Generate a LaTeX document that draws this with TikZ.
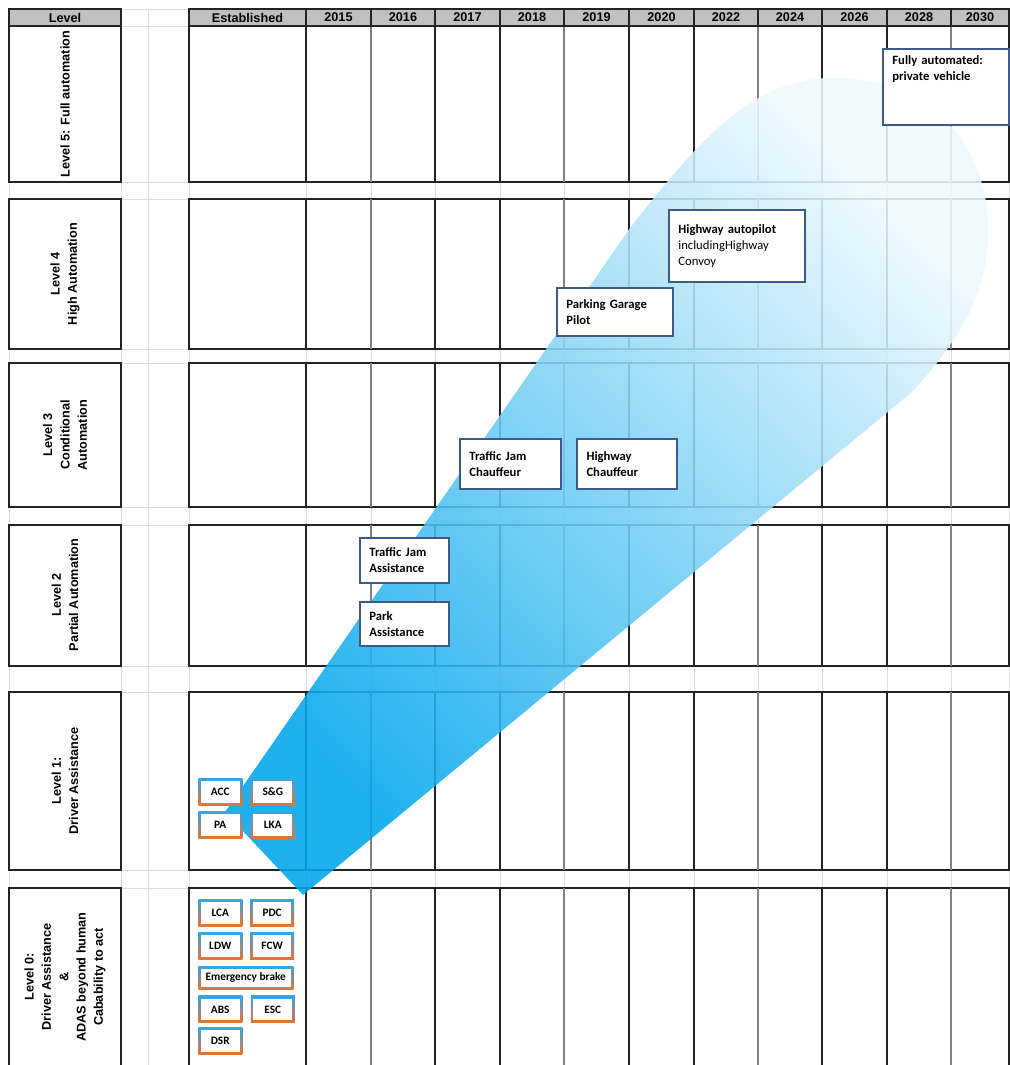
\documentclass[tikz,border=0pt]{standalone}
\usepackage{fontspec}
\usepackage{xcolor}
\usepackage{tikz}
\usetikzlibrary{positioning}
\newfontfamily\tablefont{Liberation Sans}
\newfontfamily\calloutfont{Carlito}
\definecolor{headgray}{RGB}{192, 192, 192}
\definecolor{gridgray}{RGB}{220, 220, 220}
\definecolor{rulegray}{RGB}{35, 35, 35}
\definecolor{rulelight}{RGB}{130, 130, 130}
\definecolor{stageblue}{RGB}{63, 91, 133}
\definecolor{beamdark}{RGB}{0, 166, 236}
\definecolor{beamlight}{RGB}{238, 249, 254}
\definecolor{featblue}{RGB}{52, 166, 226}
\definecolor{featorange}{RGB}{234, 114, 48}

\begin{document}
\begin{tikzpicture}[x=0.75pt, y=-0.75pt,
    gridline/.style={draw=gridgray, line width=0.75pt},
    rule/.style={draw=rulegray, line width=0.8pt},
    softrule/.style={draw=rulelight, line width=0.8pt},
    headcell/.style={draw=rulegray, line width=0.8pt, fill=headgray, minimum height=12.75pt,
                     inner sep=0pt, font=\tablefont\bfseries\fontsize{9.5}{11}\selectfont},
    levellabel/.style={rotate=90, align=center, font=\tablefont\bfseries\fontsize{9.5}{13}\selectfont},
    stage/.style={draw=stageblue, line width=1.6pt, fill=white, anchor=north west, align=left,
                  text width=#1, inner xsep=7pt, inner ysep=4pt,
                  font=\calloutfont\bfseries\fontsize{9.5}{12}\selectfont},
    feature/.style={top color=featblue, bottom color=featorange, minimum width=33pt,
                    minimum height=20.25pt, inner sep=0pt,
                    font=\calloutfont\bfseries\fontsize{8.5}{9}\selectfont,
                    path picture={\fill[white] ([shift={(2pt,-2pt)}]path picture bounding box.north west)
                        rectangle ([shift={(-2pt,2pt)}]path picture bounding box.south east);}},
    beam/.style={top color=beamlight, bottom color=beamdark, shading angle=-45, fill opacity=0.88},
]
    \path[use as bounding box, fill=white] (0,0) rectangle (1010,1065);

    % spreadsheet grid
    \foreach \gx in {9,121,148,189,306,371,435,500,564,629,694,758,822,887,951,1009}
        \draw[gridline] (\gx,9) -- (\gx,1065);
    \foreach \gy in {9,26,182,199,349,363,507,525,666,692,870,888}
        \draw[gridline] (9,\gy) -- (1010,\gy);

    % level rows
    \foreach \ya/\yb in {26/182,199/349,363/507,525/666,692/870,888/1068} {
        \draw[rule] (9,\ya) rectangle (121,\yb);
        \draw[rule] (189,\ya) rectangle (1009,\yb);
        \foreach \gx in {306,435,500,629,694,822,887}
            \draw[rule] (\gx,\ya) -- (\gx,\yb);
        \foreach \gx in {371,564,758,951}
            \draw[softrule] (\gx,\ya) -- (\gx,\yb);
    }

    % header
    \node[headcell, minimum width=84pt] (hlevel) at (65,17.5) {Level};
    \node[headcell, minimum width=87.75pt] (hest) at (247.5,17.5) {Established};
    \foreach \yr/\xa/\xb in {2015/306/371, 2016/371/435, 2017/435/500, 2018/500/564,
                             2019/564/629, 2020/629/694, 2022/694/758, 2024/758/822,
                             2026/822/887, 2028/887/951, 2030/951/1009}
        \node[headcell, minimum width={(\xb-\xa)*0.75pt}] (h\yr) at ({(\xa+\xb)/2},17.5) {\yr};

    \node[levellabel] (lvfive) at (65,104) {Level 5: Full automation};
    \node[levellabel] (lvfour) at (65,274) {Level 4\\High Automation};
    \node[levellabel] (lvthree) at (65,435) {Level 3\\Conditional\\Automation};
    \node[levellabel] (lvtwo) at (65,595) {Level 2\\Partial Automation};
    \node[levellabel] (lvone) at (65,781) {Level 1:\\Driver Assistance};
    \node[levellabel] (lvzero) at (65,977)
        {Level 0:\\Driver Assistance\\\&\\ADAS beyond human\\Cabability to act};

    % the beam
    \shade[beam] (303,895) -- (225,812) -- (630,228)
        .. controls (708,128) and (760,76) .. (838,78)
        .. controls (935,80) and (992,150) .. (988,240)
        .. controls (985,300) and (955,345) .. (912,392) -- cycle;

    % stages
    \node[stage=80.5pt, minimum height=57pt, text depth=41pt] (fullauto) at (882,48)
        {Fully automated:\\private vehicle};
    \node[stage=88pt, minimum height=54pt] (hwpilot) at (668,209)
        {Highway autopilot\\{\mdseries includingHighway}\\{\mdseries Convoy}};
    \node[stage=73pt, minimum height=36pt] (garage) at (556,287) {Parking Garage\\Pilot};
    \node[stage=61.75pt, minimum height=37.5pt] (tjchauffeur) at (459,438) {Traffic Jam\\Chauffeur};
    \node[stage=61pt, minimum height=37.5pt, right=10.5pt of tjchauffeur] (hwchauffeur)
        {Highway\\Chauffeur};
    \node[stage=52.75pt, minimum height=33.75pt] (tjassist) at (359,537) {Traffic Jam\\Assistance};
    \node[stage=52.75pt, minimum height=33pt, below=12.75pt of tjassist.south west,
          anchor=north west] (parkassist) {Park\\Assistance};

    % established functions
    \node[feature, anchor=north west] (acc) at (198,778) {ACC};
    \node[feature, right=6pt of acc] (sng) {S\&G};
    \node[feature, below=4.5pt of acc] (pa) {PA};
    \node[feature, right=6pt of pa] (lka) {LKA};

    \node[feature, anchor=north west] (lca) at (198,899) {LCA};
    \node[feature, right=5.5pt of lca] (pdc) {PDC};
    \node[feature, below=4.5pt of lca] (ldw) {LDW};
    \node[feature, right=5.5pt of ldw] (fcw) {FCW};
    \node[feature, minimum width=71.25pt, minimum height=17.25pt,
          below=4.5pt of ldw.south west, anchor=north west] (ebrake) {Emergency brake};
    \node[feature, below=4.5pt of ebrake.south west, anchor=north west] (abs) {ABS};
    \node[feature, right=6pt of abs] (esc) {ESC};
    \node[feature, below=3pt of abs] (dsr) {DSR};
\end{tikzpicture}
\end{document}
